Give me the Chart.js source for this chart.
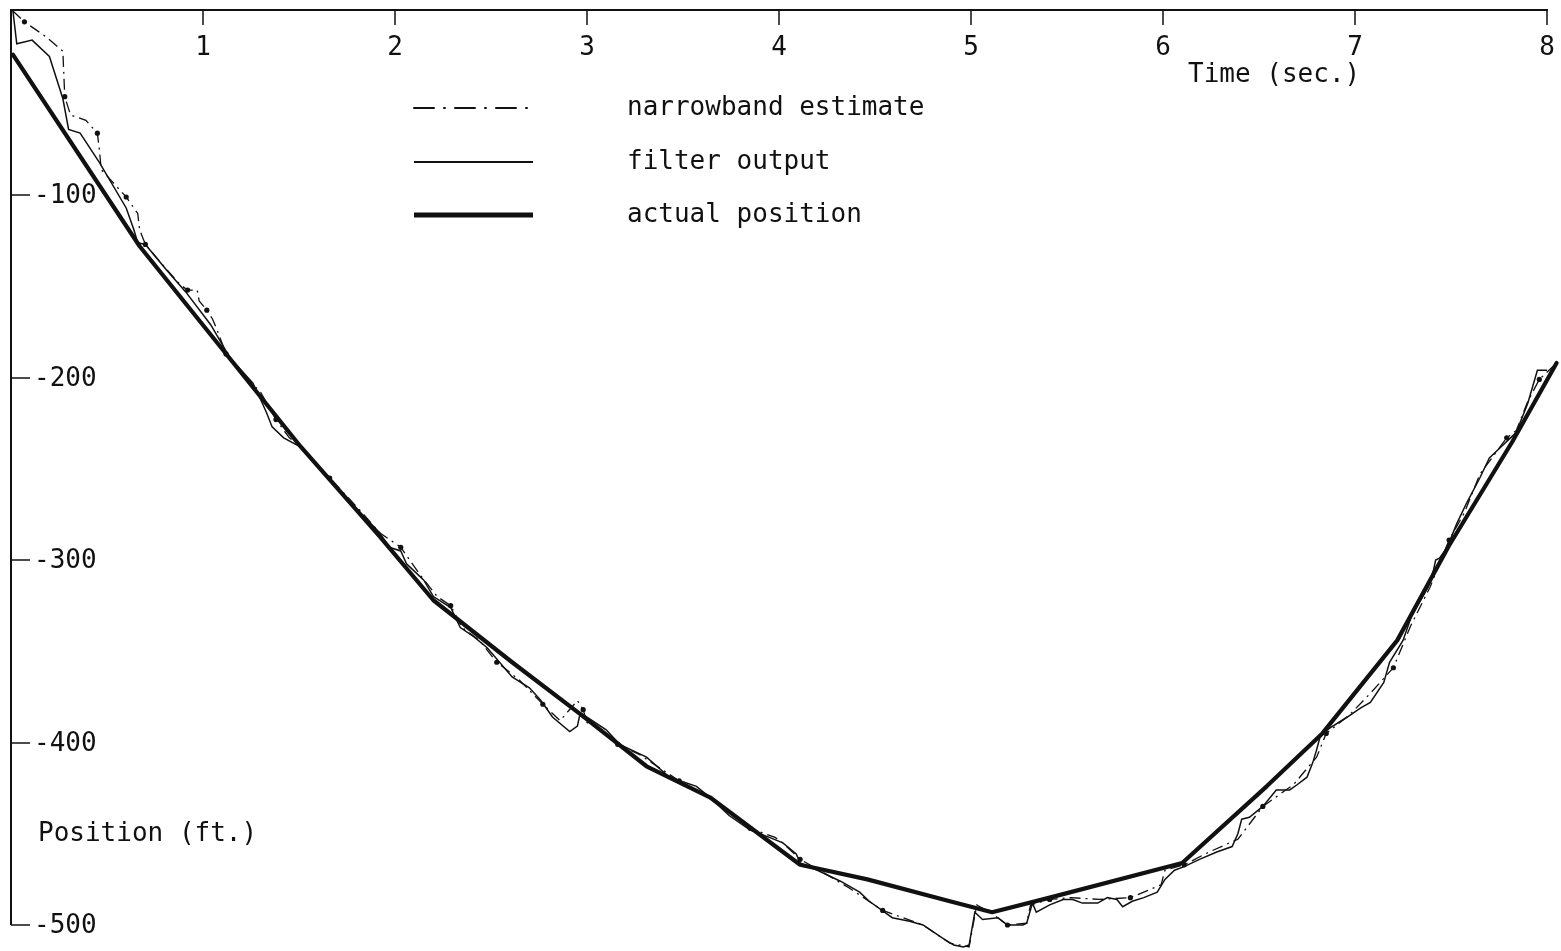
<!DOCTYPE html>
<html>
<head>
<meta charset="utf-8">
<title>Position (ft.) vs Time (sec.)</title>
<script src="https://cdn.jsdelivr.net/npm/chart.js@4.4.1/dist/chart.umd.min.js"></script>
<style>
  html, body { margin: 0; padding: 0; background: #fff; }
  #wrap { width: 1561px; height: 951px; }
</style>
</head>
<body>
<div id="wrap"><canvas id="chart" width="1561" height="951"></canvas></div>
<script>
// track.js - narrowband estimate and filter output against the actual position

const INK = '#111';
const FONT = '26px "DejaVu Sans Mono", "Liberation Mono", monospace';

const timeTicks = [1, 2, 3, 4, 5, 6, 7, 8];
const posTicks = [-100, -200, -300, -400, -500];

// actual position (ft.) at time (sec.)
const actualTime = [0.01, 0.67, 1.51, 1.92, 2.20, 2.61, 2.96, 3.31, 3.64, 4.11, 4.46,
  4.89, 5.11, 5.41, 6.10, 6.54, 6.83, 7.22, 7.49, 7.82, 8.05];
const actualPos = [-23, -128, -238, -287, -322, -356, -384, -413, -430, -467, -475,
  -487, -493, -485, -466, -424, -395, -344, -292, -235, -192];

// filter output
const filterTime = [
  0.01, 0.03, 0.11, 0.20, 0.27, 0.30, 0.36, 0.46, 0.60, 0.64,
  0.66, 0.70, 0.81, 0.91, 1.04, 1.14, 1.26, 1.30, 1.33, 1.36,
  1.42, 1.51, 1.66, 1.82, 1.92, 1.97, 2.03, 2.06, 2.11, 2.15,
  2.20, 2.29, 2.34, 2.41, 2.48, 2.61, 2.70, 2.76, 2.82, 2.91,
  2.95, 2.96, 2.97, 3.10, 3.17, 3.31, 3.43, 3.57, 3.64, 3.74,
  3.85, 3.95, 4.02, 4.09, 4.11, 4.20, 4.32, 4.42, 4.47, 4.59,
  4.68, 4.75, 4.85, 4.91, 4.96, 4.99, 5.02, 5.06, 5.14, 5.19,
  5.27, 5.29, 5.32, 5.34, 5.41, 5.48, 5.53, 5.58, 5.66, 5.71,
  5.76, 5.79, 5.84, 5.90, 5.97, 6.01, 6.06, 6.11, 6.19, 6.28,
  6.36, 6.39, 6.41, 6.45, 6.52, 6.59, 6.66, 6.70, 6.75, 6.78,
  6.80, 6.82, 6.87, 6.96, 7.03, 7.08, 7.15, 7.18, 7.25, 7.30,
  7.38, 7.41, 7.42, 7.44, 7.48, 7.53, 7.58, 7.65, 7.70, 7.76,
  7.81, 7.84, 7.90, 7.95, 8.00, 8.06];
const filterPos = [
  1, -17, -15, -24, -47, -64, -66, -82, -107, -119,
  -126, -127, -141, -153, -171, -189, -203, -212, -219, -227,
  -233, -238, -256, -274, -285, -293, -295, -302, -307, -311,
  -320, -326, -337, -342, -348, -364, -370, -377, -386, -394,
  -391, -386, -384, -393, -401, -408, -419, -424, -430, -440,
  -448, -452, -455, -461, -466, -470, -476, -482, -487, -496,
  -498, -500, -507, -511, -512, -511, -493, -497, -496, -500,
  -500, -499, -488, -493, -489, -486, -486, -488, -488, -485,
  -486, -490, -487, -485, -482, -475, -470, -468, -464, -460,
  -457, -450, -442, -441, -435, -426, -426, -423, -419, -411,
  -404, -396, -392, -386, -381, -378, -367, -356, -344, -329,
  -315, -305, -300, -299, -293, -280, -269, -255, -244, -238,
  -233, -230, -214, -196, -196, -192];

// narrowband estimate
const narrowTime = [
  0.01, 0.07, 0.18, 0.27, 0.28, 0.31, 0.39, 0.45, 0.46, 0.47,
  0.60, 0.66, 0.67, 0.70, 0.78, 0.88, 0.92, 0.97, 0.98, 1.02,
  1.05, 1.07, 1.12, 1.19, 1.30, 1.38, 1.45, 1.51, 1.66, 1.82,
  1.92, 2.03, 2.13, 2.22, 2.29, 2.35, 2.44, 2.53, 2.58, 2.65,
  2.77, 2.86, 2.95, 2.98, 3.00, 3.09, 3.16, 3.28, 3.38, 3.48,
  3.63, 3.74, 3.85, 3.98, 4.02, 4.11, 4.21, 4.37, 4.54, 4.75,
  4.89, 4.99, 5.03, 5.10, 5.19, 5.29, 5.31, 5.41, 5.52, 5.67,
  5.83, 5.99, 6.01, 6.11, 6.24, 6.39, 6.52, 6.68, 6.80, 6.85,
  6.97, 7.08, 7.20, 7.29, 7.39, 7.49, 7.57, 7.65, 7.79, 7.84,
  7.90, 7.96, 8.05];
const narrowPos = [
  1, -5, -13, -21, -46, -56, -59, -66, -75, -86,
  -101, -110, -119, -127, -137, -149, -152, -152, -158, -163,
  -168, -173, -187, -196, -208, -223, -233, -238, -255, -273,
  -285, -293, -308, -320, -325, -337, -344, -356, -360, -366,
  -379, -388, -377, -382, -389, -394, -401, -407, -414, -421,
  -430, -438, -447, -452, -455, -464, -470, -480, -492, -500,
  -510, -512, -489, -493, -500, -499, -489, -486, -485, -486,
  -485, -478, -470, -467, -460, -453, -435, -423, -408, -395,
  -385, -373, -359, -336, -315, -289, -274, -253, -233, -229,
  -213, -201, -192];

const toPoints = (ts, ps) => ts.map((t, i) => ({ x: t, y: ps[i] }));

// axes drawn the old plotter way: time along the top, ticks pointing in
const paperAxes = {
  id: 'paperAxes',
  afterDatasetsDraw(chart) {
    const { ctx, chartArea: area, scales: { x, y } } = chart;
    const left = area.left;
    const top = area.top;
    const right = x.getPixelForValue(8);
    const bottom = y.getPixelForValue(-500);

    ctx.save();
    ctx.strokeStyle = INK;
    ctx.fillStyle = INK;
    ctx.lineCap = 'butt';

    ctx.lineWidth = 2;
    ctx.beginPath();
    ctx.moveTo(right + 1, top);
    ctx.lineTo(left, top);
    ctx.lineTo(left, bottom);
    ctx.stroke();

    ctx.font = FONT;
    ctx.lineWidth = 1.5;

    ctx.textAlign = 'center';
    ctx.textBaseline = 'alphabetic';
    timeTicks.forEach(t => {
      const px = Math.round(x.getPixelForValue(t));
      ctx.beginPath();
      ctx.moveTo(px, top);
      ctx.lineTo(px, top + 15);
      ctx.stroke();
      ctx.fillText(String(t), px, top + 45);
    });

    ctx.textAlign = 'left';
    ctx.textBaseline = 'middle';
    posTicks.forEach(v => {
      const py = Math.round(y.getPixelForValue(v));
      ctx.beginPath();
      ctx.moveTo(left, py);
      ctx.lineTo(left + 19, py);
      ctx.stroke();
      ctx.fillText(String(v), left + 23, py + 1);
    });

    ctx.textBaseline = 'alphabetic';
    ctx.fillText('Time (sec.)', 1188, 82);
    ctx.fillText('Position (ft.)', 38, 841);

    // legend, one row per series
    const rows = [108, 162, 215];
    chart.data.datasets.forEach((ds, i) => {
      const ly = rows[i];
      ctx.save();
      ctx.lineWidth = ds.legendWidth;
      ctx.lineCap = ds.legendDash ? 'round' : 'butt';
      ctx.setLineDash(ds.legendDash || []);
      ctx.beginPath();
      ctx.moveTo(414, ly);
      ctx.lineTo(533, ly);
      ctx.stroke();
      ctx.restore();
      ctx.textBaseline = 'middle';
      ctx.fillText(ds.label, 627, ly);
    });

    ctx.restore();
  }
};

const chart = new Chart(document.getElementById('chart'), {
  type: 'line',
  data: {
    datasets: [
      {
        label: 'narrowband estimate',
        data: toPoints(narrowTime, narrowPos),
        borderColor: INK,
        backgroundColor: INK,
        borderWidth: 1.3,
        borderDash: [11, 5, 2, 5],
        legendWidth: 2,
        legendDash: [20, 10, 1, 10],
        pointRadius: c => (c.dataIndex % 3 === 1 ? 2.6 : 0),
        pointBorderWidth: 0,
        tension: 0,
        clip: false
      },
      {
        label: 'filter output',
        data: toPoints(filterTime, filterPos),
        borderColor: INK,
        borderWidth: 1.5,
        legendWidth: 2,
        pointRadius: 0,
        tension: 0,
        clip: false
      },
      {
        label: 'actual position',
        data: toPoints(actualTime, actualPos),
        borderColor: INK,
        borderWidth: 4.2,
        legendWidth: 5,
        borderCapStyle: 'round',
        borderJoinStyle: 'round',
        pointRadius: 0,
        tension: 0,
        clip: false
      }
    ]
  },
  options: {
    responsive: false,
    animation: false,
    events: [],
    layout: {
      padding: { left: 11, top: 10, right: 14, bottom: 26 }
    },
    plugins: {
      legend: { display: false },
      tooltip: { enabled: false },
      title: { display: false }
    },
    scales: {
      x: {
        type: 'linear',
        position: 'top',
        min: 0,
        max: 8,
        display: false
      },
      y: {
        type: 'linear',
        min: -500,
        max: 1.5,
        display: false
      }
    }
  },
  plugins: [paperAxes]
});
</script>
</body>
</html>
